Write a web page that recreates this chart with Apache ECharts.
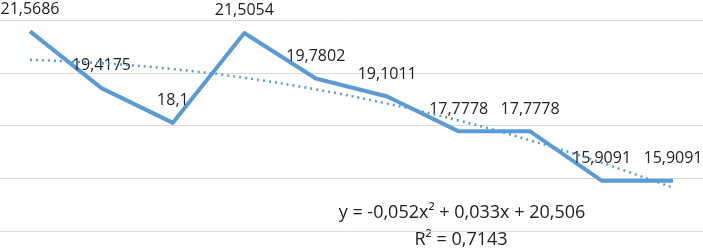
<!DOCTYPE html>
<html>
<head>
<meta charset="utf-8">
<script src="https://cdn.jsdelivr.net/npm/echarts@6/dist/echarts.min.js"></script>
<style>
  html, body { margin: 0; padding: 0; background: #fff; }
  #chart { width: 703px; height: 249px; }
</style>
</head>
<body>
<div id="chart"></div>
<script>
// values
var categories = ['1', '2', '3', '4', '5', '6', '7', '8', '9', '10'];
var values = [21.5686, 19.4175, 18.1, 21.5054, 19.7802, 19.1011, 17.7778, 17.7778, 15.9091, 15.9091];
// polynomial trend line
var trend = [20.49, 20.36, 20.14, 19.81, 19.37, 18.83, 18.19, 17.44, 16.59, 15.64];
var labelText = values.map(function (v) { return String(v).replace('.', ','); });
var equation = 'y = -0,052x² + 0,033x + 20,506';
var rSquared = 'R² = 0,7143';

var blue = '#5B9BD5';
var textColor = '#222';
var font = '"Open Sans", "Noto Sans", sans-serif';

// x positions 1..n, so the plot can run a little past the first and last point
var valuePairs = values.map(function (v, i) { return [Number(categories[i]), v]; });
var trendPairs = trend.map(function (v, i) { return [Number(categories[i]), v]; });

var chart = echarts.init(document.getElementById('chart'));

var option = {
  animation: false,
  grid: { left: 0, right: 0, top: 20, bottom: 18 },
  xAxis: {
    type: 'value',
    min: 0.58,
    max: 10.42,
    axisLine: { show: false },
    axisTick: { show: false },
    axisLabel: { show: false },
    splitLine: { show: false }
  },
  yAxis: {
    type: 'value',
    min: 14,
    max: 22,
    interval: 2,
    axisLine: { show: false },
    axisTick: { show: false },
    axisLabel: { show: false },
    splitLine: { lineStyle: { color: '#D9D9D9', width: 1 } }
  },
  graphic: [
    {
      type: 'text',
      x: 462,
      y: 213,
      style: { text: equation, font: '18px ' + font, fill: textColor, align: 'center', verticalAlign: 'middle' }
    },
    {
      type: 'text',
      x: 461,
      y: 240,
      style: { text: rSquared, font: '18px ' + font, fill: textColor, align: 'center', verticalAlign: 'middle' }
    }
  ],
  series: [
    {
      name: 'values',
      type: 'line',
      data: valuePairs,
      symbol: 'circle',
      symbolSize: 0.5,
      showSymbol: true,
      itemStyle: { color: blue },
      lineStyle: { color: blue, width: 4, join: 'round' },
      label: {
        show: true,
        position: 'top',
        distance: 14,
        fontFamily: font,
        fontSize: 16,
        lineHeight: 16,
        color: textColor,
        formatter: function (p) { return labelText[p.dataIndex]; }
      },
      labelLayout: { hideOverlap: false },
      z: 2
    },
    {
      name: 'trend',
      type: 'line',
      data: trendPairs,
      symbol: 'none',
      smooth: 0.4,
      lineStyle: { color: blue, width: 2.5, type: [2, 4] },
      z: 3
    }
  ]
};

chart.setOption(option);
</script>
</body>
</html>
